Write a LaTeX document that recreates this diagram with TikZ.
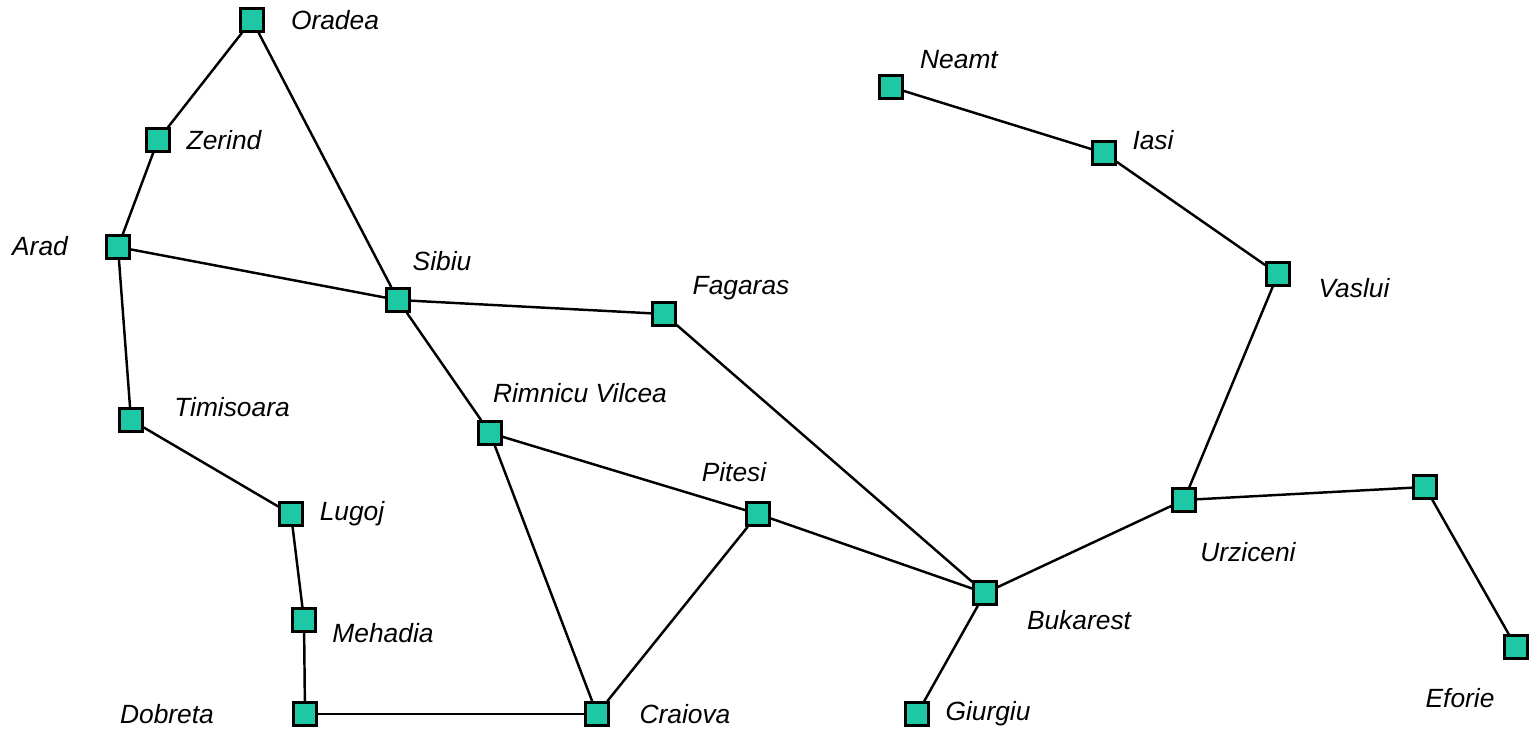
\documentclass[tikz,border=0pt]{standalone}
\usepackage{fontspec}
\setmainfont{Liberation Sans}
\definecolor{citygreen}{RGB}{30,200,165}
\begin{document}
\begin{tikzpicture}[x=0.02cm,y=-0.02cm,
  city/.style={draw=black,line width=1.7pt,fill=citygreen,minimum size=0.45cm,inner sep=0pt},
  road/.style={line width=1.4pt},
  cityname/.style={font=\fontsize{15}{18}\selectfont\itshape,inner sep=0pt}]
\useasboundingbox (0,0) rectangle (1533,729);
% cities
\node[city] (oradea)   at (252,20) {};
\node[city] (zerind)   at (158,140) {};
\node[city] (arad)     at (118,247) {};
\node[city] (sibiu)    at (398,300) {};
\node[city] (fagaras)  at (664,314) {};
\node[city] (timisoara) at (131,420) {};
\node[city] (rimnicu)  at (490,433) {};
\node[city] (lugoj)    at (291,514) {};
\node[city] (pitesi)   at (758,514) {};
\node[city] (mehadia)  at (304,620) {};
\node[city] (dobreta)  at (305,714) {};
\node[city] (craiova)  at (597,714) {};
\node[city] (giurgiu)  at (917,714) {};
\node[city] (bukarest) at (985,593) {};
\node[city] (urziceni) at (1184,500) {};
\node[city] (hirsova)  at (1425,487) {};
\node[city] (eforie)   at (1516,647) {};
\node[city] (neamt)    at (891,87) {};
\node[city] (iasi)     at (1104,153) {};
\node[city] (vaslui)   at (1278,274) {};
% names
\node[cityname] (toradea)   at (335,20)  {Oradea};
\node[cityname] (tzerind)   at (224,140) {Zerind};
\node[cityname] (tarad)     at (40,246)  {Arad};
\node[cityname] (tsibiu)    at (442,261) {Sibiu};
\node[cityname] (tfagaras)  at (741,288) {Fagaras};
\node[cityname] (ttimisoara) at (232,407) {Timisoara};
\node[cityname] (trimnicu)  at (580,393) {Rimnicu Vilcea};
\node[cityname] (tpitesi)   at (734,472) {Pitesi};
\node[cityname] (tlugoj)    at (352,514) {Lugoj};
\node[cityname] (tmehadia)  at (383,633) {Mehadia};
\node[cityname] (tdobreta)  at (167,714) {Dobreta};
\node[cityname] (tcraiova)  at (685,714) {Craiova};
\node[cityname] (tgiurgiu)  at (988,714) {Giurgiu};
\node[cityname] (tbukarest) at (1079,620) {Bukarest};
\node[cityname] (turziceni) at (1248,552) {Urziceni};
\node[cityname] (teforie)   at (1460,698) {Eforie};
\node[cityname] (tneamt)    at (959,60)  {Neamt};
\node[cityname] (tiasi)     at (1153,140) {Iasi};
\node[cityname] (tvaslui)   at (1354,288) {Vaslui};
% roads
\foreach \a/\b in {oradea/zerind, oradea/sibiu, zerind/arad, arad/sibiu,
  arad/timisoara, timisoara/lugoj, lugoj/mehadia, mehadia/dobreta,
  dobreta/craiova, sibiu/fagaras, sibiu/rimnicu, rimnicu/pitesi,
  rimnicu/craiova, craiova/pitesi, pitesi/bukarest, fagaras/bukarest,
  bukarest/giurgiu, bukarest/urziceni, urziceni/vaslui, vaslui/iasi,
  iasi/neamt, urziceni/hirsova, hirsova/eforie}
  \draw[road] (\a) -- (\b);
\end{tikzpicture}
\end{document}
